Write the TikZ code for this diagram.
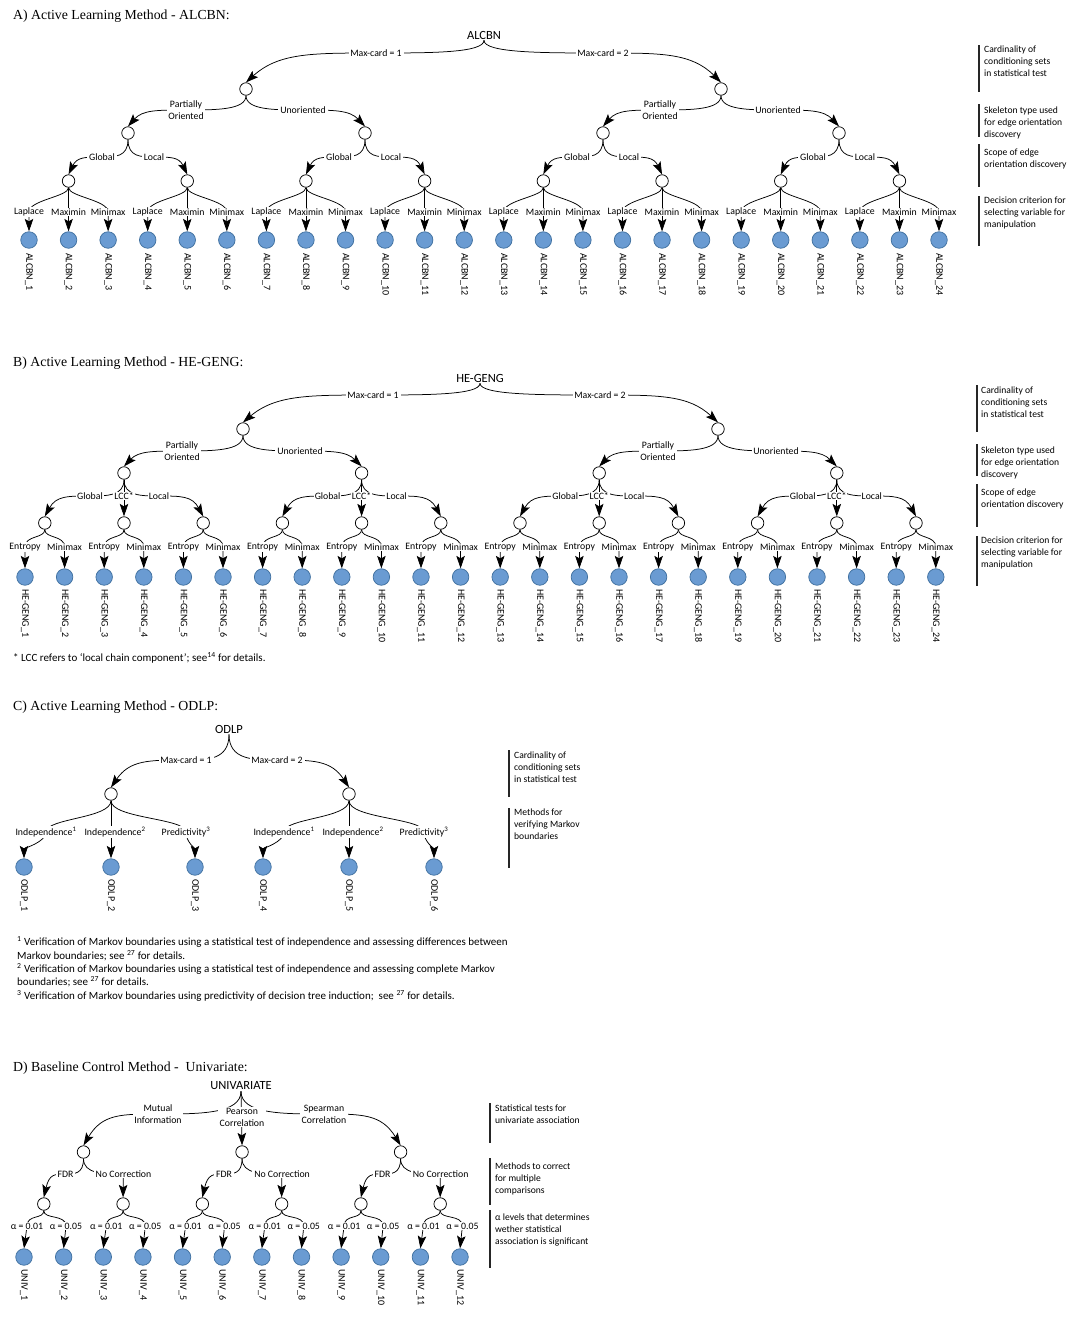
\documentclass[tikz,border=0pt]{standalone}
\usepackage{fontspec}
\setmainfont{Carlito}
\newfontfamily\ttlfont{Liberation Serif}
\usetikzlibrary{arrows.meta,calc,backgrounds}
\definecolor{leaffill}{RGB}{106,155,210}
\definecolor{leafdraw}{RGB}{65,113,160}
\newcommand\smallfnt{\fontsize{9.8}{12}\selectfont}
\newcommand\annfnt{\fontsize{9.6}{12}\selectfont}
\newcommand\leaffnt{\fontsize{10}{12}\selectfont}
\newcommand\rootfnt{\fontsize{12.5}{14}\selectfont}
\newcommand\headfnt{\ttlfont\fontsize{13.8}{16}\selectfont}
\newcommand\notefnt{\fontsize{11}{13}\selectfont}
\newcommand\hedge[3]{\draw[arr] (#1.south) .. controls (#1.south |- #2.center) and ($(#2.center)!0.5!(#1.south |- #2.center)$) .. (#2.center) .. controls ($(#2.center)!0.5!(#3.north |- #2.center)$) and ($(#3.north |- #2.center)!0.25!(#2.center)$) .. (#3.north);}
\newcommand\vedge[3]{\draw[arr] (#1.south) .. controls +(0,9) and +(0,-12) .. (#2.center) -- (#3.north);}
\newcommand\cedge[3]{\draw[arr] (#1.south) .. controls +(0,18) and +(0,-14) .. (#2.center) .. controls +(0,10) and +(0,-10) .. (#3.north);}
\newcommand\sedge[2]{\draw[arr] (#1.south) -- (#2.north);}
\begin{document}
\begin{tikzpicture}[x=1pt,y=-1pt,
  inner/.style={circle,draw,fill=white,minimum size=12.5pt,inner sep=0pt,line width=0.75pt},
  leaf/.style={circle,draw=leafdraw,fill=leaffill,minimum size=16.5pt,inner sep=0pt,line width=0.75pt},
  lbl/.style={font=\smallfnt,fill=white,inner xsep=1.8pt,inner ysep=0.8pt,align=center},
  rootlbl/.style={font=\rootfnt,inner sep=1pt},
  arr/.style={line width=0.75pt,-{Stealth[length=12.5pt,width=8.5pt,inset=2.5pt]}},
  ltxt/.style={rotate=-90,anchor=west,font=\leaffnt,inner sep=0pt},
  ann/.style={anchor=north west,font=\annfnt,align=left,inner sep=0pt},
  annbar/.style={line width=1.1pt,draw=black!85},
  head/.style={anchor=west,font=\headfnt,inner sep=0pt},
  note/.style={anchor=west,font=\notefnt,inner sep=0pt}]
\useasboundingbox (0,0) rectangle (1085,1318);

%%%%%%%%%%%%%%%% A
\node[head] (hA) at (13,16) {A) Active Learning Method - ALCBN:};
\node[rootlbl] (a0) at (484,35) {ALCBN};
\node[lbl] (amc0) at (376,53) {Max-card = 1};
\node[lbl] (amc1) at (603,53) {Max-card = 2};
\node[inner] (aone0) at (246,89) {};
\node[inner] (aone1) at (721,89) {};
\node[lbl] (apo0) at (186,110) {Partially\\Oriented};
\node[lbl] (aun0) at (303,110) {Unoriented};
\node[lbl] (apo1) at (660,110) {Partially\\Oriented};
\node[lbl] (aun1) at (778,110) {Unoriented};
\foreach \j/\x in {0/128,1/365,2/603,3/839}{
  \node[inner] (atwo\j) at (\x,133) {};
  \node[lbl] (agl\j) at (\x-26,157) {Global};
  \node[lbl] (alo\j) at (\x+26,157) {Local};
}
\foreach \g in {0,...,7}{
  \pgfmathsetmacro\xa{29+39.565*(3*\g)}
  \pgfmathsetmacro\xb{29+39.565*(3*\g+1)}
  \pgfmathsetmacro\xc{29+39.565*(3*\g+2)}
  \pgfmathtruncatemacro\ka{3*\g}
  \pgfmathtruncatemacro\kb{3*\g+1}
  \pgfmathtruncatemacro\kc{3*\g+2}
  \node[inner] (athr\g) at (\xb,181) {};
  \node[lbl,inner xsep=0.8pt] (ael\ka) at (\xa,212) {Laplace};
  \node[lbl,inner xsep=0.8pt] (ael\kb) at (\xb,212) {Maximin};
  \node[lbl,inner xsep=0.8pt] (ael\kc) at (\xc,212) {Minimax};
}
\foreach \k in {0,...,23}{
  \pgfmathsetmacro\xx{29+39.565*\k}
  \pgfmathtruncatemacro\nn{\k+1}
  \node[leaf] (aL\k) at (\xx,240) {};
  \node[ltxt] (atx\k) at (\xx,253) {ALCBN\_\nn};
}
\draw[annbar] (979,45) -- (979,92);
\node[ann] (aan0) at (984,46) {Cardinality of\\conditioning sets\\in statistical test};
\draw[annbar] (979,104) -- (979,137);
\node[ann] (aan1) at (984,107) {Skeleton type used\\for edge orientation\\discovery};
\draw[annbar] (979,144) -- (979,187);
\node[ann] (aan2) at (984,149) {Scope of edge\\orientation discovery};
\draw[annbar] (979,196) -- (979,246);
\node[ann] (aan3) at (984,197) {Decision criterion for\\selecting variable for\\manipulation};

%%%%%%%%%%%%%%%% B
\node[head] (hB) at (13,363) {B) Active Learning Method - HE-GENG:};
\node[rootlbl] (b0) at (480,378) {HE-GENG};
\node[lbl] (bmc0) at (373,395) {Max-card = 1};
\node[lbl] (bmc1) at (600,395) {Max-card = 2};
\node[inner] (bone0) at (243,429) {};
\node[inner] (bone1) at (718,429) {};
\node[lbl] (bpo0) at (182,451) {Partially\\Oriented};
\node[lbl] (bun0) at (300,451) {Unoriented};
\node[lbl] (bpo1) at (658,451) {Partially\\Oriented};
\node[lbl] (bun1) at (776,451) {Unoriented};
\foreach \j in {0,...,3}{
  \pgfmathsetmacro\x{44.8+79.2*(3*\j+1)}
  \node[inner] (btwo\j) at (\x,473) {};
  \node[lbl,inner xsep=1pt] (bgl\j) at (\x-34,496) {Global};
  \node[lbl,inner xsep=1pt] (blc\j) at (\x,496) {LCC*};
  \node[lbl,inner xsep=1pt] (blo\j) at (\x+35,496) {Local};
}
\foreach \t in {0,...,11}{
  \pgfmathsetmacro\x{44.8+79.2*\t}
  \pgfmathsetmacro\xa{25+79.2*\t}
  \pgfmathsetmacro\xb{64.6+79.2*\t}
  \pgfmathtruncatemacro\ka{2*\t}
  \pgfmathtruncatemacro\kb{2*\t+1}
  \node[inner] (bthr\t) at (\x,523) {};
  \node[lbl,inner xsep=0.5pt] (bel\ka) at (\xa,547) {Entropy};
  \node[lbl,inner xsep=0.5pt] (bel\kb) at (\xb,547) {Minimax};
}
\foreach \k in {0,...,23}{
  \pgfmathsetmacro\xx{25+39.6*\k}
  \pgfmathtruncatemacro\nn{\k+1}
  \node[leaf] (bL\k) at (\xx,577) {};
  \node[ltxt] (btx\k) at (\xx,589) {HE-GENG\_\nn};
}
\node[note] (bfn) at (13,658) {* LCC refers to ‘local chain component’; see\textsuperscript{14} for details.};
\draw[annbar] (977,385) -- (977,432);
\node[ann] (ban0) at (981,387) {Cardinality of\\conditioning sets\\in statistical test};
\draw[annbar] (977,444) -- (977,476);
\node[ann] (ban1) at (981,447) {Skeleton type used\\for edge orientation\\discovery};
\draw[annbar] (977,484) -- (977,527);
\node[ann] (ban2) at (981,489) {Scope of edge\\orientation discovery};
\draw[annbar] (977,536) -- (977,586);
\node[ann] (ban3) at (981,537) {Decision criterion for\\selecting variable for\\manipulation};

%%%%%%%%%%%%%%%% C
\node[head] (hC) at (13,707) {C) Active Learning Method - ODLP:};
\node[rootlbl] (c0) at (229,729) {ODLP};
\node[lbl] (cmc0) at (186,760) {Max-card = 1};
\node[lbl] (cmc1) at (277,760) {Max-card = 2};
\node[inner] (cone0) at (111,794) {};
\node[inner] (cone1) at (349,794) {};
\node[lbl] (cin0) at (46,832) {Independence\textsuperscript{1}};
\node[lbl] (cin1) at (115,832) {Independence\textsuperscript{2}};
\node[lbl] (cpr0) at (186,832) {Predictivity\textsuperscript{3}};
\node[lbl] (cin2) at (284,832) {Independence\textsuperscript{1}};
\node[lbl] (cin3) at (353,832) {Independence\textsuperscript{2}};
\node[lbl] (cpr1) at (424,832) {Predictivity\textsuperscript{3}};
\foreach \k/\x in {0/24,1/111,2/195,3/263,4/349,5/434}{
  \pgfmathtruncatemacro\nn{\k+1}
  \node[leaf] (cL\k) at (\x,867) {};
  \node[ltxt] (ctx\k) at (\x,879) {ODLP\_\nn};
}
\draw[annbar] (509,750) -- (509,797);
\node[ann] (can0) at (514,752) {Cardinality of\\conditioning sets\\in statistical test};
\draw[annbar] (509,808) -- (509,868);
\node[ann] (can1) at (514,809) {Methods for\\verifying Markov\\boundaries};
\node[note] (cf1) at (17,942) {\textsuperscript{1} Verification of Markov boundaries using a statistical test of independence and assessing differences between};
\node[note] (cf2) at (17,956) {Markov boundaries; see \textsuperscript{27} for details.};
\node[note] (cf3) at (17,969) {\textsuperscript{2} Verification of Markov boundaries using a statistical test of independence and assessing complete Markov};
\node[note] (cf4) at (17,982) {boundaries; see \textsuperscript{27} for details.};
\node[note] (cf5) at (17,996) {\textsuperscript{3} Verification of Markov boundaries using predictivity of decision tree induction;\ \ see \textsuperscript{27} for details.};

%%%%%%%%%%%%%%%% D
\node[head] (hD) at (13,1068) {D) Baseline Control Method -\ \ Univariate:};
\node[rootlbl] (d0) at (241,1086) {UNIVARIATE};
\node[lbl] (dmi) at (158,1114) {Mutual\\Information};
\node[lbl] (dpc) at (242,1117) {Pearson\\Correlation};
\node[lbl] (dsc) at (324,1114) {Spearman\\Correlation};
\foreach \i in {0,1,2}{
  \pgfmathsetmacro\x{83.5+158.55*\i}
  \node[inner] (done\i) at (\x,1152) {};
  \node[lbl] (dfd\i) at (\x-18,1174) {FDR};
  \node[lbl] (dnc\i) at (\x+40,1174) {No Correction};
}
\foreach \m in {0,...,5}{
  \pgfmathsetmacro\x{43.8+79.28*\m}
  \pgfmathsetmacro\xa{27+79.28*\m}
  \pgfmathsetmacro\xb{66+79.28*\m}
  \pgfmathtruncatemacro\ka{2*\m}
  \pgfmathtruncatemacro\kb{2*\m+1}
  \node[inner] (dtwo\m) at (\x,1204) {};
  \node[lbl,inner xsep=0.5pt] (del\ka) at (\xa,1226) {α = 0.01};
  \node[lbl,inner xsep=0.5pt] (del\kb) at (\xb,1226) {α = 0.05};
}
\foreach \k in {0,...,11}{
  \pgfmathsetmacro\xx{24+39.64*\k}
  \pgfmathtruncatemacro\nn{\k+1}
  \node[leaf] (dL\k) at (\xx,1257) {};
  \node[ltxt] (dtx\k) at (\xx,1269) {UNIV\_\nn};
}
\draw[annbar] (490,1103) -- (490,1143);
\node[ann] (dan0) at (495,1105) {Statistical tests for\\univariate association};
\draw[annbar] (490,1158) -- (490,1205);
\node[ann] (dan1) at (495,1163) {Methods to correct\\for multiple\\comparisons};
\draw[annbar] (490,1210) -- (490,1268);
\node[ann] (dan2) at (495,1214) {α levels that determines\\wether statistical\\association is significant};

%%%%%%%%%%%%%%%% edges
\begin{pgfonlayer}{background}
\fill[white] (0,0) rectangle (1085,1318);
% A
\hedge{a0}{amc0}{aone0} \hedge{a0}{amc1}{aone1}
\hedge{aone0}{apo0}{atwo0} \hedge{aone0}{aun0}{atwo1}
\hedge{aone1}{apo1}{atwo2} \hedge{aone1}{aun1}{atwo3}
\foreach \j in {0,...,3}{
  \pgfmathtruncatemacro\ga{2*\j}
  \pgfmathtruncatemacro\gb{2*\j+1}
  \hedge{atwo\j}{agl\j}{athr\ga}
  \hedge{atwo\j}{alo\j}{athr\gb}
}
\foreach \g in {0,...,7}{
  \pgfmathtruncatemacro\ka{3*\g}
  \pgfmathtruncatemacro\kb{3*\g+1}
  \pgfmathtruncatemacro\kc{3*\g+2}
  \vedge{athr\g}{ael\ka}{aL\ka}
  \sedge{athr\g}{aL\kb}
  \vedge{athr\g}{ael\kc}{aL\kc}
}
% B
\hedge{b0}{bmc0}{bone0} \hedge{b0}{bmc1}{bone1}
\hedge{bone0}{bpo0}{btwo0} \hedge{bone0}{bun0}{btwo1}
\hedge{bone1}{bpo1}{btwo2} \hedge{bone1}{bun1}{btwo3}
\foreach \j in {0,...,3}{
  \pgfmathtruncatemacro\ta{3*\j}
  \pgfmathtruncatemacro\tb{3*\j+1}
  \pgfmathtruncatemacro\tc{3*\j+2}
  \hedge{btwo\j}{bgl\j}{bthr\ta}
  \sedge{btwo\j}{bthr\tb}
  \hedge{btwo\j}{blo\j}{bthr\tc}
}
\foreach \t in {0,...,11}{
  \pgfmathtruncatemacro\ka{2*\t}
  \pgfmathtruncatemacro\kb{2*\t+1}
  \vedge{bthr\t}{bel\ka}{bL\ka}
  \vedge{bthr\t}{bel\kb}{bL\kb}
}
% C
\hedge{c0}{cmc0}{cone0} \hedge{c0}{cmc1}{cone1}
\cedge{cone0}{cin0}{cL0} \sedge{cone0}{cL1} \cedge{cone0}{cpr0}{cL2}
\cedge{cone1}{cin2}{cL3} \sedge{cone1}{cL4} \cedge{cone1}{cpr1}{cL5}
% D
\hedge{d0}{dmi}{done0} \sedge{d0}{done1} \hedge{d0}{dsc}{done2}
\foreach \i in {0,1,2}{
  \pgfmathtruncatemacro\ma{2*\i}
  \pgfmathtruncatemacro\mb{2*\i+1}
  \hedge{done\i}{dfd\i}{dtwo\ma}
  \hedge{done\i}{dnc\i}{dtwo\mb}
}
\foreach \m in {0,...,5}{
  \pgfmathtruncatemacro\ka{2*\m}
  \pgfmathtruncatemacro\kb{2*\m+1}
  \vedge{dtwo\m}{del\ka}{dL\ka}
  \vedge{dtwo\m}{del\kb}{dL\kb}
}
\end{pgfonlayer}
\end{tikzpicture}
\end{document}
